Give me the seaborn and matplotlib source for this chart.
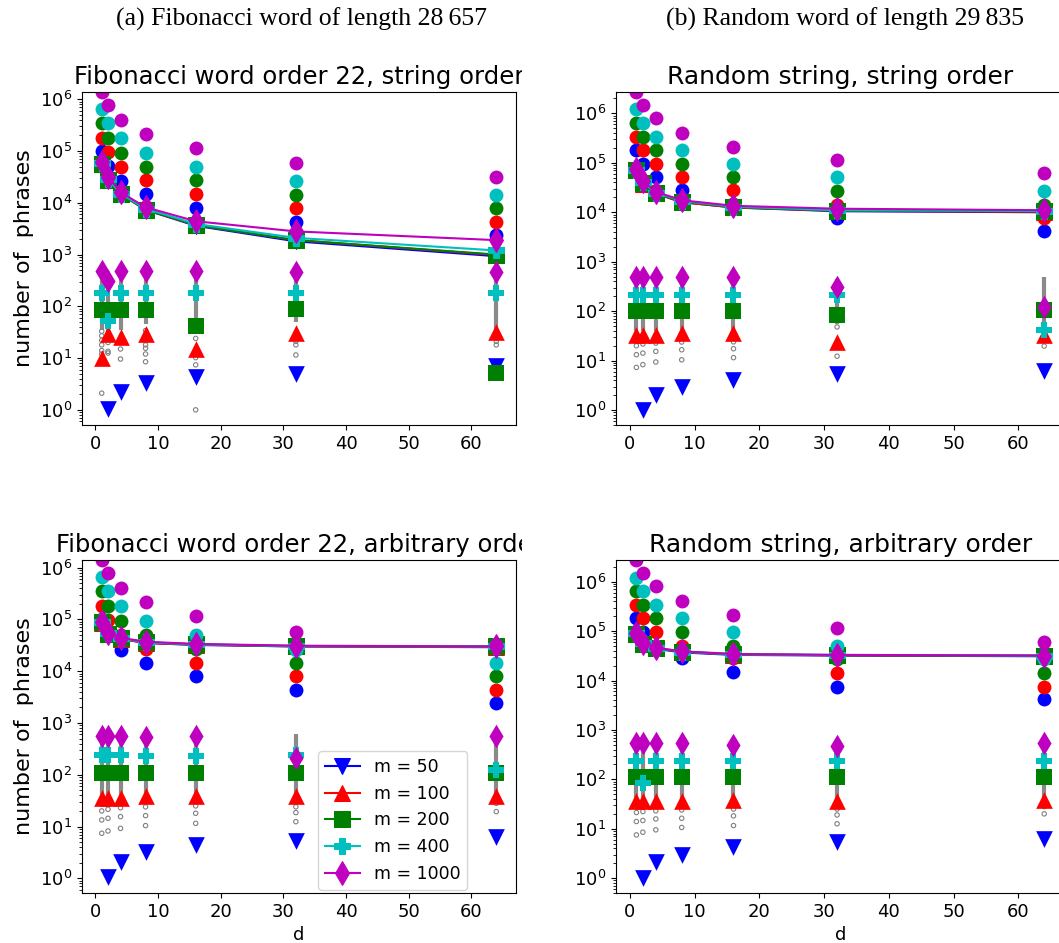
import numpy as np
import matplotlib
matplotlib.use("Agg")
import matplotlib.pyplot as plt
import seaborn as sns
from matplotlib.transforms import Bbox, TransformedBbox

# x values (d) and the five series (m)
d_values = [1, 2, 4, 8, 16, 32, 64]
m_values = [50, 100, 200, 400, 1000]

# circles (same baseline for both orders of a word)
fib_circles = {
    50: [1.0e5, 5.1e4, 2.6e4, 1.46e4, 8.1e3, 4.3e3, 2.4e3],
    100: [1.8e5, 9.7e4, 5.0e4, 2.7e4, 1.46e4, 7.9e3, 4.3e3],
    200: [3.5e5, 1.8e5, 9.3e4, 5.0e4, 2.7e4, 1.42e4, 7.9e3],
    400: [6.5e5, 3.5e5, 1.8e5, 9.3e4, 5.0e4, 2.6e4, 1.42e4],
    1000: [1.38e6, 7.7e5, 3.96e5, 2.16e5, 1.16e5, 5.8e4, 3.2e4],
}
rnd_circles = {
    50: [1.8e5, 9.5e4, 5.1e4, 2.8e4, 1.5e4, 7.5e3, 4.2e3],
    100: [3.3e5, 1.8e5, 9.5e4, 5.1e4, 2.8e4, 1.4e4, 7.5e3],
    200: [6.5e5, 3.3e5, 1.8e5, 9.5e4, 5.1e4, 2.7e4, 1.4e4],
    400: [1.2e6, 6.5e5, 3.3e5, 1.8e5, 9.5e4, 5.1e4, 2.7e4],
    1000: [2.7e6, 1.47e6, 8.1e5, 4.0e5, 2.1e5, 1.14e5, 6.1e4],
}

# number of phrases (lines)
fib_str_lines = {
    50: [5.5e4, 2.8e4, 1.5e4, 7.3e3, 3.6e3, 1.8e3, 0.93e3],
    100: [5.5e4, 2.8e4, 1.5e4, 7.4e3, 3.7e3, 1.9e3, 0.98e3],
    200: [5.6e4, 2.8e4, 1.45e4, 7.4e3, 3.7e3, 1.9e3, 1.0e3],
    400: [5.8e4, 2.9e4, 1.5e4, 7.7e3, 3.9e3, 2.1e3, 1.2e3],
    1000: [6.0e4, 3.2e4, 1.6e4, 8.2e3, 4.4e3, 2.8e3, 1.9e3],
}
rnd_str_lines = {
    50: [7.0e4, 3.8e4, 2.4e4, 1.6e4, 1.25e4, 1.05e4, 1.0e4],
    100: [7.1e4, 3.8e4, 2.4e4, 1.6e4, 1.25e4, 1.07e4, 1.02e4],
    200: [7.2e4, 3.9e4, 2.4e4, 1.65e4, 1.27e4, 1.08e4, 1.04e4],
    400: [7.3e4, 4.0e4, 2.5e4, 1.7e4, 1.3e4, 1.1e4, 1.06e4],
    1000: [7.5e4, 4.2e4, 2.6e4, 1.75e4, 1.35e4, 1.18e4, 1.1e4],
}
fib_arb_lines = {
    50: [8.5e4, 5.2e4, 4.2e4, 3.5e4, 3.2e4, 3.0e4, 2.9e4],
    100: [8.6e4, 5.3e4, 4.2e4, 3.5e4, 3.25e4, 3.0e4, 2.95e4],
    200: [8.7e4, 5.3e4, 4.3e4, 3.6e4, 3.3e4, 3.05e4, 3.0e4],
    400: [8.8e4, 5.4e4, 4.3e4, 3.6e4, 3.3e4, 3.05e4, 3.0e4],
    1000: [9.0e4, 5.5e4, 4.4e4, 3.7e4, 3.35e4, 3.1e4, 3.0e4],
}
rnd_arb_lines = {
    50: [8.5e4, 5.5e4, 4.4e4, 3.7e4, 3.3e4, 3.2e4, 3.1e4],
    100: [8.7e4, 5.6e4, 4.5e4, 3.8e4, 3.35e4, 3.25e4, 3.15e4],
    200: [8.8e4, 5.6e4, 4.5e4, 3.8e4, 3.4e4, 3.25e4, 3.2e4],
    400: [9.0e4, 5.7e4, 4.6e4, 3.85e4, 3.4e4, 3.3e4, 3.2e4],
    1000: [9.2e4, 5.8e4, 4.6e4, 3.9e4, 3.45e4, 3.3e4, 3.2e4],
}

# lower markers
nan = np.nan
fib_str_low = {
    50: [nan, 1.05, 2.2, 3.3, 4.3, 5.0, 7.0],
    100: [10, 29, 25, 29, 15, 30, 32],
    200: [85, 85, 85, 85, 42, 88, 5.1],
    400: [177, 53, 177, 177, 177, 180, 180],
    1000: [480, 310, 480, 480, 480, 470, 470],
}
rnd_str_low = {
    50: [nan, 1.0, 2.0, 3.0, 4.0, 5.3, 6.2],
    100: [33, 33, 33, 36, 36, 24, 33],
    200: [102, 102, 102, 102, 102, 83, 105],
    400: [216, 216, 216, 216, 212, 212, 41],
    1000: [485, 485, 485, 485, 500, 310, 123],
}
fib_arb_low = {
    50: [nan, 1.08, 2.1, 3.2, 4.3, 5.2, 6.2],
    100: [35, 35, 35, 38, 38, 38, 38],
    200: [106, 106, 106, 106, 106, 107, 107],
    400: [240, 240, 240, 225, 225, 240, 123],
    1000: [560, 560, 560, 540, 560, 208, 560],
}
rnd_arb_low = {
    50: [nan, 1.0, 2.1, 3.0, 4.2, 5.3, 6.3],
    100: [36, 36, 36, 36, 38, 37, 38],
    200: [109, 109, 109, 109, 109, 110, 113],
    400: [230, 84, 230, 230, 230, 230, 240],
    1000: [540, 540, 540, 540, 500, 480, 555],
}

# grey points: isolated values and the densely packed range per d
fib_str_gray = [[2.1, 8.9, 12, 14, 18, 22, 27, 33], [12.5, 13.5, 20, 28], [9.6, 15, 22],
                 [8.5, 12, 15.5, 18, 25, 34], [1.0, 7.4, 10.2, 12, 24], [11.5, 18, 21, 26], [18, 21, 24]]
fib_str_lo = [35, 30, 35, 45, 35, 50, 35]
fib_str_hi = [480, 450, 420, 380, 450, 440, 450]
rnd_str_gray = [[7.3, 13.2, 20], [8.3, 14.2, 21.7], [9.4, 15.4, 22.7], [10.4, 16.6, 23.8],
                [11.5, 17.4, 24], [12.3, 48], [19.7, 27]]
rnd_str_lo = [40, 40, 40, 40, 35, 55, 30]
rnd_str_hi = [500, 500, 500, 480, 480, 450, 500]
fib_arb_gray = [[7.4, 13.4, 20], [8.2, 14.4, 21.5], [9.2, 15.5, 23], [10.4, 16.2, 24],
                [11.5, 18, 25], [12.4, 18.6, 24], [19.4, 28]]
fib_arb_lo = [30, 30, 30, 35, 35, 32, 32]
fib_arb_hi = [450, 450, 450, 450, 450, 620, 470]
rnd_arb_gray = [[7.5, 14, 21.3], [8.5, 14.7, 22.3], [9.5, 15.8, 23], [10.6, 16.3, 24],
                [11.6, 18.2, 25], [12.6, 19, 25], [20, 28]]
rnd_arb_lo = [33, 33, 33, 35, 35, 35, 35]
rnd_arb_hi = [430, 450, 450, 450, 450, 450, 450]

colors = ["b", "r", "g", "c", "m"]
markers = ["v", "^", "s", "P", "d"]

W, H = 1059, 943
fig = plt.figure(figsize=(W / 100, H / 100), dpi=100)


def draw_panel(rect, title, circles, lines, low, gray, lo, hi, ylim, left):
    ax = fig.add_axes(rect)
    ax.set_yscale("log")
    ax.vlines(d_values, lo, hi, colors="#8a8a8a", linewidth=3.0, zorder=1)
    gx = [d for d, pts in zip(d_values, gray) for _ in pts]
    gy = [v for pts in gray for v in pts]
    ax.scatter(gx, gy, s=10, facecolors="none", edgecolors="gray", linewidths=0.8, zorder=1)
    for m, c, mk in zip(m_values, colors, markers):
        sns.scatterplot(x=d_values, y=circles[m], color=c, marker="o", s=100,
                        edgecolor=c, linewidth=0, zorder=2, legend=False, ax=ax)
        sns.lineplot(x=d_values, y=lines[m], color=c, marker=mk, markersize=12,
                     markeredgecolor=c, linewidth=1.5, label=f"m = {m}",
                     errorbar=None, zorder=2, ax=ax)
        sns.scatterplot(x=d_values, y=low[m], color=c, marker=mk, s=144,
                        edgecolor=c, linewidth=0, zorder=2, legend=False, ax=ax)
    ax.set_yticks([1e0, 1e1, 1e2, 1e3, 1e4, 1e5, 1e6])
    ax.set_ylim(*ylim)
    ax.set_xlim(-2.15, 67.15)
    ax.set_xticks([0, 10, 20, 30, 40, 50, 60])
    ax.tick_params(labelsize=13)
    ax.set_xlabel(None)
    ax.set_ylabel(None)
    leg = ax.get_legend()
    if leg is not None:
        leg.remove()
    t = ax.set_title(title, fontsize=17.5 if left else 18)
    if left:
        t.set_clip_box(TransformedBbox(Bbox.from_extents(0, 0, 522 / W, 1), fig.transFigure))
        t.set_clip_on(True)
        ax.set_ylabel("number of  phrases", fontsize=16)
    return ax


lx, rx = 82 / W, 616 / W
lw_, rw_ = 434 / W, 448.6 / W
ty, by = (H - 425) / H, (H - 893) / H
hh = 333 / H

draw_panel([lx, ty, lw_, hh], "Fibonacci word order 22, string order",
           fib_circles, fib_str_lines, fib_str_low, fib_str_gray, fib_str_lo, fib_str_hi,
           (0.51, 1.38e6), True)
draw_panel([rx, ty, rw_, hh], "Random string, string order",
           rnd_circles, rnd_str_lines, rnd_str_low, rnd_str_gray, rnd_str_lo, rnd_str_hi,
           (0.5, 2.7e6), False)
ax_bl = draw_panel([lx, by, lw_, hh], "Fibonacci word order 22, arbitrary order",
                   fib_circles, fib_arb_lines, fib_arb_low, fib_arb_gray, fib_arb_lo, fib_arb_hi,
                   (0.52, 1.4e6), True)
ax_br = draw_panel([rx, by, rw_, hh], "Random string, arbitrary order",
                   rnd_circles, rnd_arb_lines, rnd_arb_low, rnd_arb_gray, rnd_arb_lo, rnd_arb_hi,
                   (0.5, 2.75e6), False)

ax_bl.set_xlabel("d", fontsize=13)
ax_br.set_xlabel("d", fontsize=13)
handles, labels = ax_bl.get_legend_handles_labels()
ax_bl.legend(handles, labels, loc="lower left", bbox_to_anchor=(0.544, 0.01),
             borderaxespad=0, fontsize=12.5)

serif = ["Liberation Serif", "DejaVu Serif"]
fig.text(302 / W, 1 - 19 / H, "(a) Fibonacci word of length 28\u2009657",
         ha="center", va="center", family=serif, fontsize=18.5)
fig.text(845 / W, 1 - 19 / H, "(b) Random word of length 29\u2009835",
         ha="center", va="center", family=serif, fontsize=18.5)

fig.savefig("out.png", dpi=100)
